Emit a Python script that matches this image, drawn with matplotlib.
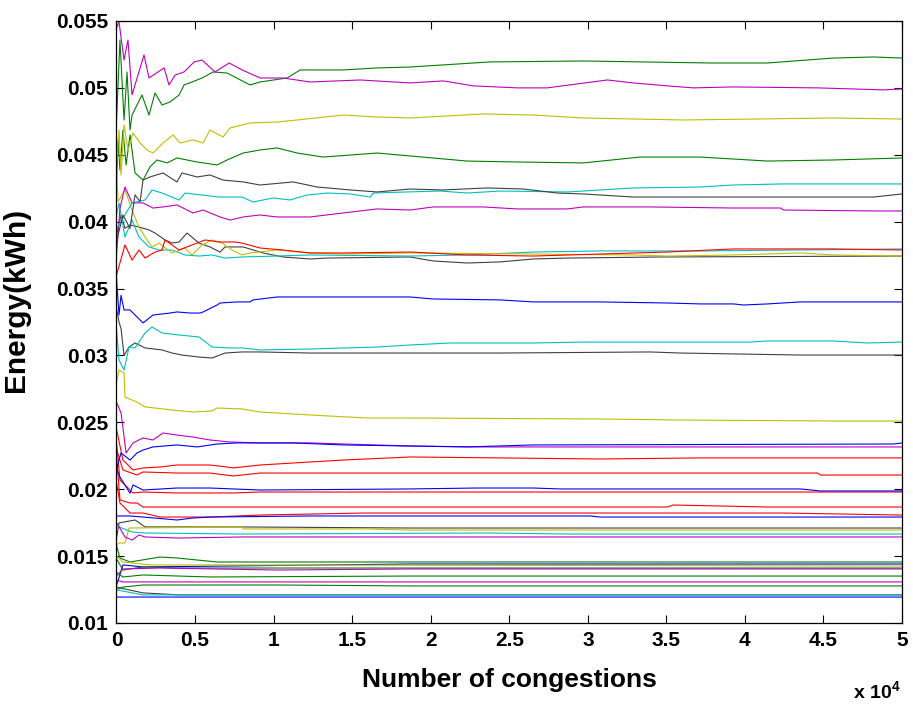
import matplotlib
matplotlib.use("Agg")
import matplotlib.pyplot as plt
from matplotlib.ticker import FuncFormatter

plt.rcParams['font.family'] = ['Liberation Sans', 'DejaVu Sans']
plt.rcParams['font.weight'] = 'bold'
plt.rcParams['mathtext.fontset'] = 'custom'
plt.rcParams['mathtext.bf'] = 'Liberation Sans:bold'

# (number of congestions, energy kWh) points, one list per run
mag_top = [(0, 0.05448), (160, 0.05493), (480, 0.05208), (730, 0.05358), (990, 0.04948), (1750, 0.05246),
           (2070, 0.05074), (3030, 0.05149), (3340, 0.05022), (3730, 0.05096), (4300, 0.05119), (4940, 0.05194),
           (5450, 0.05208), (6270, 0.05119), (7170, 0.05186), (8000, 0.05134), (9140, 0.05074), (10600, 0.05074),
           (12320, 0.05044), (15510, 0.05059), (18690, 0.05037), (20800, 0.05052), (22710, 0.05015),
           (25510, 0.0500), (27420, 0.0500), (31240, 0.05059), (32900, 0.05037), (35060, 0.05015),
           (36720, 0.0500), (39270, 0.05007), (44620, 0.0500), (48820, 0.04985), (50000, 0.04992)]
green_top = [(0, 0.0475), (220, 0.05358), (480, 0.0476), (670, 0.05119), (860, 0.04685), (990, 0.04797),
             (1620, 0.04947), (2070, 0.04797), (2450, 0.04962), (2900, 0.04872), (3410, 0.04895), (3980, 0.04947),
             (4300, 0.05022), (4810, 0.05044), (5450, 0.05074), (6150, 0.05119), (7040, 0.05111), (8500, 0.05022),
             (9140, 0.05044), (10860, 0.05074), (11690, 0.05134), (14430, 0.05134), (16590, 0.05149),
             (18690, 0.05156), (23790, 0.05194), (29710, 0.05201), (37800, 0.05186), (41430, 0.05186),
             (45630, 0.05223), (48180, 0.05231), (50000, 0.05223)]
yellow_top = [(0, 0.0445), (30, 0.04461), (160, 0.04685), (290, 0.04349), (480, 0.04723), (730, 0.04536),
              (1050, 0.04663), (1500, 0.04588), (1940, 0.04536), (2320, 0.04513), (2960, 0.04588), (3600, 0.04648),
              (4040, 0.04588), (4870, 0.04611), (5510, 0.04588), (5950, 0.04685), (6780, 0.04633), (7230, 0.047),
              (8500, 0.04738), (10220, 0.04745), (11500, 0.0476), (14430, 0.04797), (16590, 0.04782),
              (18690, 0.04775), (23340, 0.04805), (26530, 0.04797), (29710, 0.04775), (36080, 0.0476),
              (45630, 0.04775), (50000, 0.04767)]
green_2 = [(0, 0.0430), (100, 0.0461), (220, 0.04386), (410, 0.04685), (610, 0.04424), (860, 0.04648),
           (1180, 0.04364), (1690, 0.04311), (2130, 0.04409), (2580, 0.04461), (3220, 0.04439), (3850, 0.04476),
           (4490, 0.04461), (5130, 0.04446), (6400, 0.04424), (7040, 0.04461), (8060, 0.04513), (9140, 0.04536),
           (10220, 0.04551), (11500, 0.04513), (13150, 0.04483), (14870, 0.04498), (16590, 0.04513),
           (18690, 0.04491), (22320, 0.04453), (25510, 0.04446), (29710, 0.04439), (33340, 0.04483),
           (37160, 0.04483), (41430, 0.04453), (45630, 0.04461), (50000, 0.04476)]
gray_top = [(0, 0.0385), (100, 0.0390), (410, 0.0405), (860, 0.0395), (1180, 0.0420), (1500, 0.0415),
            (1690, 0.04311), (2130, 0.04334), (2960, 0.04364), (3850, 0.04297), (4170, 0.04364), (5130, 0.04334),
            (5950, 0.04349), (6780, 0.04311), (8060, 0.04297), (9140, 0.04274), (11240, 0.04297), (12770, 0.04259),
            (14870, 0.04237), (16590, 0.04222), (18690, 0.04244), (20800, 0.04237), (23600, 0.04252),
            (25890, 0.04244), (28060, 0.04214), (29710, 0.04207), (32900, 0.04184), (37160, 0.04184),
            (43530, 0.04184), (48180, 0.04184), (50000, 0.04207)]
cyan_top = [(0, 0.0395), (350, 0.04012), (990, 0.0414), (1820, 0.04162), (2260, 0.04237), (2900, 0.04214),
            (3980, 0.04162), (4360, 0.04214), (5450, 0.04199), (6530, 0.04184), (7990, 0.04184), (8690, 0.04147),
            (9970, 0.04177), (11050, 0.04162), (12130, 0.04199), (13410, 0.04214), (14870, 0.04207),
            (16150, 0.04184), (16340, 0.04214), (18500, 0.04222), (20600, 0.04229), (22320, 0.04214),
            (24420, 0.04229), (28690, 0.04222), (32900, 0.04252), (37160, 0.04259), (39270, 0.04274),
            (42450, 0.04282), (50000, 0.04282)]
mag_mid = [(0, 0.0375), (220, 0.0410), (540, 0.04259), (990, 0.0414), (1690, 0.0414), (2320, 0.04102),
           (2960, 0.0411), (3850, 0.04125), (4870, 0.04065), (5510, 0.04087), (6590, 0.04035), (7230, 0.04012),
           (8060, 0.04035), (9140, 0.0405), (10220, 0.04035), (12320, 0.04035), (14430, 0.04065),
           (16590, 0.04095), (18690, 0.04087), (20160, 0.0411), (23340, 0.0411), (25510, 0.04095),
           (28690, 0.04095), (29710, 0.0411), (33980, 0.0411), (39270, 0.04102), (42260, 0.04102),
           (42450, 0.04087), (48180, 0.0408), (50000, 0.0408)]
red_038 = [(0, 0.0360), (540, 0.03826), (990, 0.03713), (1430, 0.03788), (1820, 0.03728), (2450, 0.03773),
           (2900, 0.03788), (3090, 0.03863), (3980, 0.03788), (4810, 0.03826), (5640, 0.03863), (6530, 0.03848),
           (7550, 0.03848), (7990, 0.0384), (9140, 0.03803), (10600, 0.03788), (12320, 0.03766),
           (14430, 0.03766), (18690, 0.03773), (22320, 0.03751), (26530, 0.03743), (30790, 0.03758),
           (35060, 0.03773), (39270, 0.03796), (45630, 0.03796), (50000, 0.03788)]
yellow_037 = [(0, 0.0440), (100, 0.0415), (540, 0.04237), (990, 0.04087), (1430, 0.0396), (1820, 0.03885),
              (2260, 0.03811), (2710, 0.0384), (3530, 0.03766), (4360, 0.03803), (4810, 0.03751), (5450, 0.03826),
              (6080, 0.03863), (6720, 0.0384), (7360, 0.03788), (7990, 0.03751), (8500, 0.03766),
              (10220, 0.03788), (12320, 0.03766), (14430, 0.03758), (18690, 0.03766), (26530, 0.03758),
              (32900, 0.03751), (35060, 0.03743), (39270, 0.03751), (43530, 0.03766), (45630, 0.03751),
              (50000, 0.03743)]
cyan_038 = [(0, 0.0405), (160, 0.0414), (540, 0.03885), (990, 0.04012), (1430, 0.03885), (2070, 0.03811),
            (2710, 0.03788), (3530, 0.03788), (4360, 0.03751), (5250, 0.03743), (6080, 0.03751), (6910, 0.03728),
            (7990, 0.03736), (10220, 0.03743), (12320, 0.03751), (18690, 0.03743), (22320, 0.03751),
            (26530, 0.03773), (30790, 0.03781), (37160, 0.03781), (50000, 0.03796)]
gray_037 = [(0, 0.0390), (290, 0.0405), (540, 0.0395), (860, 0.03975), (1430, 0.0396), (2070, 0.03938),
            (2450, 0.03915), (3090, 0.03863), (3530, 0.0384), (3980, 0.03848), (4490, 0.03915), (5250, 0.0384),
            (5950, 0.03811), (6590, 0.03773), (6910, 0.03811), (8060, 0.03811), (9330, 0.03766),
            (10600, 0.03736), (12320, 0.03721), (13410, 0.03728), (18690, 0.03736), (20160, 0.03706),
            (22320, 0.03691), (24420, 0.03699), (26530, 0.03721), (28690, 0.03728), (34620, 0.03736),
            (50000, 0.03743)]
blue_034 = [(0, 0.0360), (30, 0.0352), (160, 0.03302), (290, 0.0345), (480, 0.0334), (860, 0.0334),
            (1500, 0.03265), (1690, 0.03243), (2320, 0.03302), (3410, 0.03317), (3850, 0.03325), (4680, 0.03317),
            (5320, 0.03317), (5510, 0.03325), (6400, 0.03377), (6590, 0.03392), (7670, 0.034), (8500, 0.034),
            (8690, 0.03415), (10220, 0.03437), (11500, 0.03437), (14430, 0.03437), (18690, 0.03437),
            (20160, 0.03422), (24420, 0.03415), (26530, 0.034), (30790, 0.034), (35060, 0.03392),
            (37160, 0.03385), (39270, 0.03385), (39910, 0.03377), (41430, 0.03385), (43530, 0.034),
            (50000, 0.034)]
cyan_031 = [(0, 0.0320), (160, 0.02966), (480, 0.02891), (800, 0.03063), (1180, 0.03056), (1820, 0.03168),
            (2260, 0.03213), (2900, 0.03168), (3980, 0.03153), (5250, 0.03138), (6080, 0.03063), (7170, 0.03056),
            (7990, 0.03056), (9140, 0.03041), (12320, 0.03048), (16590, 0.03063), (18690, 0.03078),
            (21240, 0.03093), (26530, 0.03093), (29710, 0.031), (40350, 0.031), (41430, 0.03108),
            (45630, 0.03108), (47800, 0.03093), (50000, 0.031)]
gray_030 = [(0, 0.0335), (160, 0.0325), (290, 0.0320), (480, 0.0300), (800, 0.03063), (1180, 0.03093),
            (1820, 0.03056), (2900, 0.03041), (3530, 0.03018), (4170, 0.03003), (5250, 0.02988), (6080, 0.02981),
            (6910, 0.03018), (7990, 0.03026), (9140, 0.03026), (12320, 0.03018), (24420, 0.03018),
            (33980, 0.03026), (35890, 0.03018), (43530, 0.03003), (50000, 0.03003)]
yellow_025 = [(0, 0.0280), (160, 0.02891), (480, 0.02869), (540, 0.02689), (990, 0.02667), (1430, 0.02644),
              (1820, 0.02615), (2450, 0.02607), (3530, 0.02592), (4870, 0.02577), (6080, 0.02585),
              (6400, 0.02607), (7990, 0.026), (9140, 0.02577), (12320, 0.02555), (15950, 0.02532),
              (18690, 0.02532), (30790, 0.02525), (36080, 0.02517), (45630, 0.0251), (50000, 0.0251)]
mag_023 = [(0, 0.0265), (290, 0.0257), (610, 0.02271), (1050, 0.02346), (1690, 0.02383), (2320, 0.02368),
           (2960, 0.0242), (3850, 0.02405), (4870, 0.0239), (5950, 0.02368), (7230, 0.02353), (9140, 0.02346),
           (12320, 0.02346), (18690, 0.02323), (23340, 0.02316), (50000, 0.02316)]
blue_023 = [(0, 0.0215), (290, 0.02271), (860, 0.02218), (1310, 0.02271), (1690, 0.02293), (2320, 0.02316),
            (3850, 0.02331), (5130, 0.02316), (6400, 0.02338), (7670, 0.02346), (11240, 0.02346),
            (14430, 0.02331), (22320, 0.02316), (26530, 0.02331), (49460, 0.02338), (50000, 0.02346)]
red_022 = [(0, 0.0245), (410, 0.02218), (1050, 0.02144), (1690, 0.02159), (2770, 0.02166), (3850, 0.02181),
           (5950, 0.02181), (7040, 0.02166), (7420, 0.02159), (9140, 0.02181), (11240, 0.02196),
           (14430, 0.02218), (18690, 0.02241), (30790, 0.02226), (37160, 0.02234), (50000, 0.02234)]
red_021 = [(0, 0.0230), (410, 0.02144), (1310, 0.02106), (1690, 0.02129), (3850, 0.02121), (5950, 0.02121),
           (7420, 0.02099), (9140, 0.02121), (44620, 0.02121), (44810, 0.02106), (50000, 0.02106)]
blue_020 = [(0, 0.0215), (220, 0.02091), (860, 0.0197), (1050, 0.02032), (1690, 0.01994), (3850, 0.02009),
            (5950, 0.02009), (9140, 0.01994), (18690, 0.02002), (22960, 0.02009), (26530, 0.02009),
            (28240, 0.02002), (43530, 0.02002), (44810, 0.01987), (50000, 0.01987)]
red_020 = [(0, 0.0235), (220, 0.02069), (1050, 0.01972), (1690, 0.01979), (3850, 0.01972), (7420, 0.01972),
           (9140, 0.01979), (50000, 0.01979)]
red_019 = [(0, 0.0225), (220, 0.0192), (860, 0.01897), (1310, 0.01897), (1690, 0.01867), (35060, 0.01867),
           (35440, 0.01882), (41430, 0.01867), (50000, 0.01867)]
red_018 = [(0, 0.0205), (220, 0.01897), (860, 0.01822), (1690, 0.01822), (2770, 0.01792), (5950, 0.01792),
           (9140, 0.01807), (15700, 0.01822), (42450, 0.01822), (50000, 0.01807)]
blue_018 = [(0, 0.0180), (860, 0.0180), (1690, 0.01792), (3850, 0.0177), (4870, 0.01785), (5950, 0.01792),
            (12320, 0.018), (30160, 0.018), (30790, 0.01792), (50000, 0.01792)]
gray_017 = [(0, 0.0163), (160, 0.01748), (1180, 0.0177), (1820, 0.01718), (7990, 0.01718), (18690, 0.0171),
            (50000, 0.0171)]
yellow_017 = [(0, 0.0158), (160, 0.01598), (540, 0.01598), (800, 0.0171), (7990, 0.01718), (8060, 0.01703),
              (15950, 0.01703), (18690, 0.01695), (50000, 0.01695)]
cyan_017 = [(0, 0.0172), (160, 0.01718), (990, 0.0168), (1820, 0.01673), (7990, 0.01665), (23600, 0.01673),
            (28690, 0.01665), (50000, 0.01665)]
mag_016 = [(0, 0.0175), (160, 0.0172), (540, 0.01643), (990, 0.0162), (1430, 0.01658), (1820, 0.01643),
           (3980, 0.01635), (7990, 0.01643), (50000, 0.01643)]
green_0146 = [(0, 0.0158), (220, 0.01486), (860, 0.01456), (2770, 0.01493), (3850, 0.01486), (6400, 0.01456),
              (50000, 0.01456)]
blue_0144 = [(0, 0.0128), (410, 0.01434), (1690, 0.01419), (18690, 0.01441), (50000, 0.01441)]
yellow_0143 = [(0, 0.0150), (410, 0.01456), (2130, 0.01434), (7670, 0.01434), (50000, 0.01426)]
green_0141 = [(0, 0.0148), (410, 0.01396), (1690, 0.01419), (3850, 0.01411), (50000, 0.01411)]
mag_0140 = [(0, 0.0135), (410, 0.01404), (2770, 0.01411), (10220, 0.01396), (18690, 0.01404), (50000, 0.01404)]
green_0135 = [(0, 0.0138), (410, 0.01344), (1690, 0.01359), (5950, 0.01344), (18690, 0.01351), (50000, 0.01351)]
mag_0131 = [(0, 0.0132), (410, 0.01307), (50000, 0.01307)]
green_0128 = [(0, 0.0125), (410, 0.01269), (1690, 0.01284), (10220, 0.01284), (18690, 0.01277), (50000, 0.01277)]
gray_0121 = [(0, 0.0127), (220, 0.01262), (1690, 0.01225), (4000, 0.0121), (50000, 0.0121)]
cyan_0121 = [(0, 0.0124), (30, 0.01247), (1690, 0.0121), (50000, 0.0121)]
blue_0119 = [(0, 0.0120), (30, 0.01194), (3850, 0.01194), (50000, 0.01194)]

# MATLAB default line colours
M = (0.75, 0, 0.75)
G = (0, 0.5, 0)
Y = (0.75, 0.75, 0)
C = (0, 0.75, 0.75)
K = (0.25, 0.25, 0.25)
R = (1, 0, 0)
B = (0, 0, 1)

runs = [
    (green_0146, G), (blue_0144, B), (yellow_0143, Y), (green_0141, G), (mag_0140, M), (green_0135, G),
    (mag_0131, M), (green_0128, G), (gray_0121, K), (cyan_0121, C), (blue_0119, B),
    (gray_017, K), (yellow_017, Y), (cyan_017, C), (mag_016, M),
    (red_018, R), (blue_018, B), (red_019, R), (red_020, R), (blue_020, B), (red_021, R), (red_022, R),
    (mag_023, M), (blue_023, B), (yellow_025, Y), (gray_030, K), (cyan_031, C), (blue_034, B),
    (gray_037, K), (cyan_038, C), (yellow_037, Y), (red_038, R), (mag_mid, M), (cyan_top, C), (gray_top, K),
    (green_2, G), (yellow_top, Y), (green_top, G), (mag_top, M),
]

fig = plt.figure(figsize=(9.13, 7.09), dpi=100)
ax = fig.add_axes([0.1276, 0.1213, 0.8604, 0.8491])

for pts, col in runs:
    xs = [p[0] for p in pts]
    ys = [p[1] for p in pts]
    ax.plot(xs, ys, color=col, lw=0.8)

ax.set_xlim(0, 50000)
ax.set_ylim(0.01, 0.055)
ax.set_xticks(range(0, 50001, 5000))
ax.set_yticks([0.01 + 0.005 * i for i in range(10)])
ax.xaxis.set_major_formatter(FuncFormatter(lambda v, p: '%g' % (v / 1e4)))
ax.yaxis.set_major_formatter(FuncFormatter(lambda v, p: '%g' % round(v, 3)))
ax.tick_params(direction='in', length=5.5, width=0.8, top=True, right=True, labelsize=15, pad=6)
for lab in ax.get_xticklabels() + ax.get_yticklabels():
    lab.set_fontweight('bold')
for s in ax.spines.values():
    s.set_linewidth(0.9)

ax.set_xlabel('Number of congestions', fontsize=19, fontweight='bold')
ax.set_ylabel('Energy(kWh)', fontsize=21.5, fontweight='bold')
ax.xaxis.set_label_coords(0.5, -0.075)
ax.yaxis.set_label_coords(-0.11, 0.537)
fig.text(0.987, 0.008, r'x 10$^{\mathbf{4}}$', ha='right', va='bottom', fontsize=14, fontweight='bold')

fig.savefig('out.png', dpi=100)
